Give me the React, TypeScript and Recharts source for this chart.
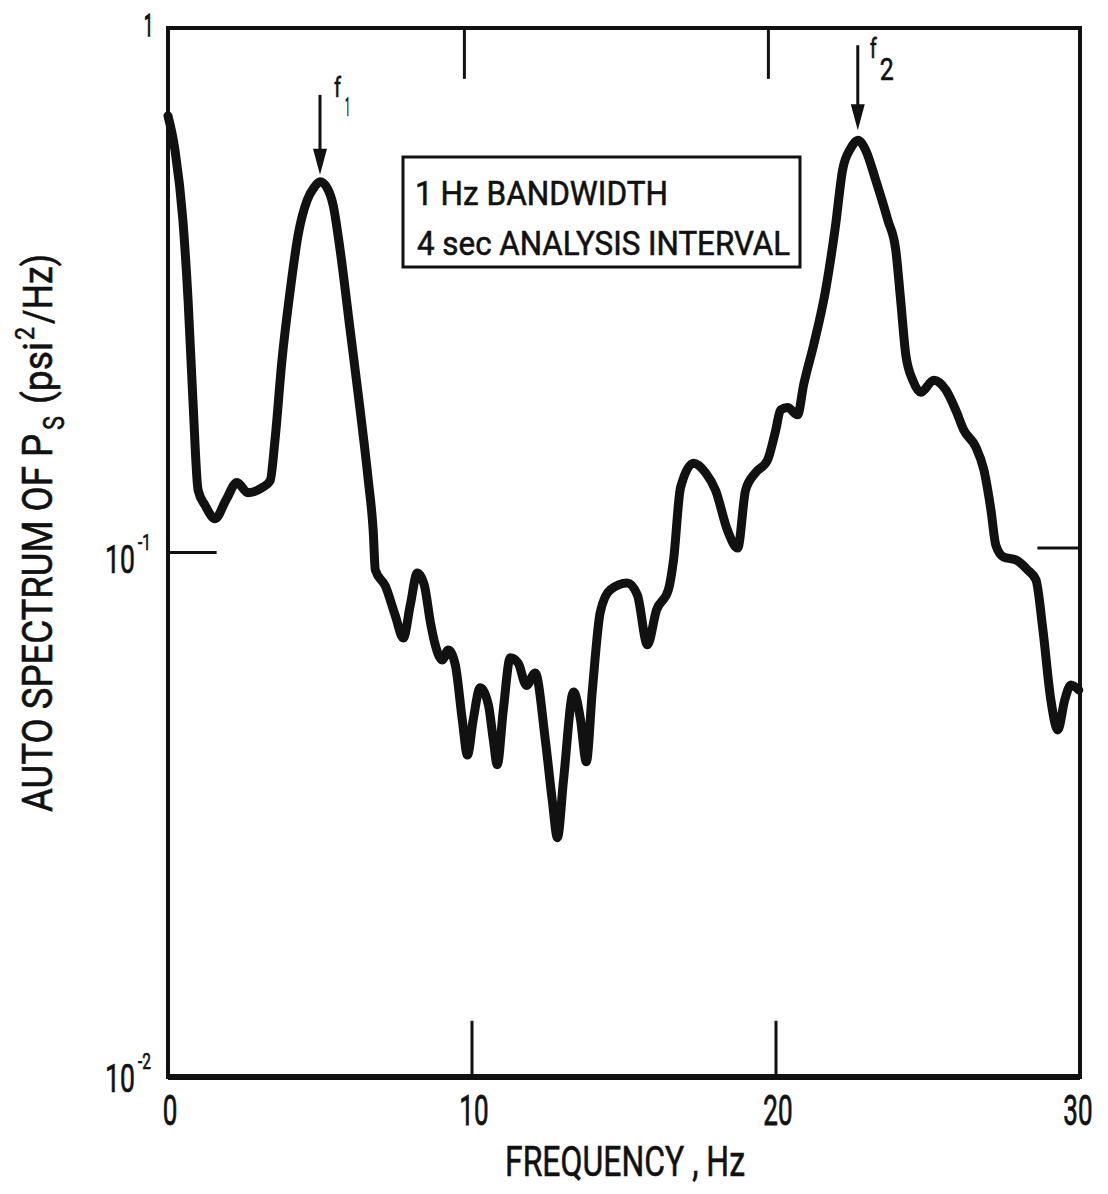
import { LineChart, Line, XAxis, YAxis, ReferenceArea, ReferenceLine, ReferenceDot } from "recharts";

// frequency (Hz) and auto spectrum (psi^2/Hz)
const freq = [
  0, 0.23, 0.49, 0.66, 0.82, 0.99, 1.22, 1.55, 1.91, 2.27, 2.63, 3.1, 3.36, 3.52, 3.75, 4.02, 4.28, 4.58, 4.81, 5.0,
  5.24, 5.43, 5.66, 5.99, 6.32, 6.59, 6.75, 6.82, 7.15, 7.47, 7.74, 7.97, 8.2, 8.43, 8.63, 8.79, 9.02, 9.22, 9.45, 9.68,
  9.85, 10.04, 10.27, 10.54, 10.7, 10.83, 11.03, 11.26, 11.52, 11.79, 12.08, 12.41, 12.64, 12.81, 13.01, 13.34, 13.57, 13.76, 13.96, 14.22,
  14.55, 15.11, 15.44, 15.77, 16.07, 16.46, 16.63, 16.86, 17.29, 17.68, 18.01, 18.41, 18.74, 19.0, 19.33, 19.72, 19.99, 20.15, 20.38, 20.71,
  20.91, 21.24, 21.63, 21.96, 22.19, 22.46, 22.69, 22.95, 23.28, 23.68, 23.94, 24.1, 24.27, 24.5, 24.76, 25.19, 25.59, 25.91, 26.18, 26.57,
  26.84, 27.07, 27.23, 27.49, 27.89, 28.28, 28.55, 28.78, 29.04, 29.27, 29.5, 29.7, 29.96,
];
const psd = [
  0.68, 0.585, 0.43, 0.303, 0.195, 0.1315, 0.123, 0.116, 0.126, 0.136, 0.13, 0.133, 0.137, 0.164, 0.233, 0.316, 0.403, 0.47, 0.497, 0.509,
  0.495, 0.46, 0.378, 0.266, 0.187, 0.137, 0.11, 0.0926, 0.0863, 0.076, 0.0687, 0.0794, 0.0914, 0.0867, 0.0737, 0.0667, 0.0624, 0.0652, 0.0611, 0.048,
  0.0411, 0.048, 0.0552, 0.0512, 0.044, 0.0394, 0.0501, 0.063, 0.0615, 0.0558, 0.0589, 0.044, 0.0337, 0.0286, 0.0368, 0.0542, 0.048, 0.0399, 0.0547, 0.077,
  0.0849, 0.0875, 0.083, 0.0667, 0.0777, 0.0849, 0.0968, 0.133, 0.148, 0.142, 0.1315, 0.11, 0.102, 0.1315, 0.142, 0.15, 0.171, 0.187, 0.189, 0.183,
  0.209, 0.249, 0.316, 0.421, 0.536, 0.59, 0.611, 0.585, 0.513, 0.43, 0.377, 0.303, 0.238, 0.213, 0.202, 0.213, 0.204, 0.187, 0.171, 0.159,
  0.1436, 0.1205, 0.1033, 0.098, 0.0968, 0.0926, 0.0887, 0.0712, 0.0524, 0.0459, 0.0524, 0.0559, 0.0547,
];

const xTicks = [0, 10, 20, 30];
const yTicks = [0.01, 0.1, 1];
const yExponents = [-2, -1, 0];
const innerXTicks = [10, 20];
const innerYTicks = [0.1];

const data = freq.map((f, i) => ({ f, p: psd[i] }));

function peakIn(lo: number, hi: number) {
  let best = data[0];
  let found = false;
  for (const d of data) {
    if (d.f < lo || d.f > hi) continue;
    if (!found || d.p > best.p) {
      best = d;
      found = true;
    }
  }
  return best;
}

const peak1 = peakIn(2, 10);
const peak2 = peakIn(15, 30);

const FONT = "Roboto, 'Liberation Sans', sans-serif";
const INK = "#111";

function XTick(props: any) {
  const { x, y, payload } = props;
  const s = String(payload.value);
  const v = payload.value as number;
  return (
    <g transform={`translate(${x + (v === 30 ? -2 : 2)}, ${y + 48}) scale(0.62, 1)`}>
      <text x={0} y={0} textAnchor="middle" fontFamily={FONT} fontSize={42} fill={INK} stroke={INK} strokeWidth={0.8}>
        {s}
      </text>
    </g>
  );
}

function YTick(props: any) {
  const { x, y, payload } = props;
  const v = payload.value as number;
  const e = yExponents[yTicks.indexOf(v)];
  if (e === 0) {
    return (
      <g transform={`translate(${x - 24}, ${y + 8}) scale(0.5, 1)`}>
        <text x={0} y={0} fontFamily={FONT} fontSize={32} fill={INK} stroke={INK} strokeWidth={1.4}>1</text>
      </g>
    );
  }
  const bx = x - 63;
  return (
    <g fill={INK} fontFamily={FONT} stroke={INK} strokeWidth={0.7}>
      <g transform={`translate(${bx}, ${y + (e === -2 ? 15 : 20)}) scale(0.7, 1)`}>
        <text x={0} y={0} fontSize={38}>10</text>
      </g>
      <g transform={`translate(${bx + 33}, ${y + (e === -2 ? -8 : -3)}) scale(0.7, 1)`}>
        <text x={0} y={0} fontSize={22}>{`-${-e}`}</text>
      </g>
    </g>
  );
}

function Arrow(props: any, label: string, top: number, tip: number, lx: number, ly: number, sx: number, sy: number, subSize: number) {
  const { cx, cy } = props;
  return (
    <g>
      <line x1={cx} y1={cy - top} x2={cx} y2={cy - tip - 22} stroke={INK} strokeWidth={3} />
      <path d={`M${cx - 7},${cy - tip - 26} L${cx + 7},${cy - tip - 26} L${cx},${cy - tip} Z`} fill={INK} />
      <text x={cx + lx} y={cy - ly} fontFamily={FONT} fontSize={28} fill={INK} stroke={INK} strokeWidth={0.6}
        textLength={7} lengthAdjust="spacingAndGlyphs">f</text>
      <text x={cx + sx} y={cy - sy} fontFamily={FONT} fontSize={subSize} fill={INK} stroke={INK} strokeWidth={0.6}
        textLength={label === "2" ? 14 : 5} lengthAdjust="spacingAndGlyphs">{label}</text>
    </g>
  );
}

export default function App() {
  return (
    <div style={{ position: "relative", width: 1100, height: 1184, background: "#fff" }}>
      <LineChart width={1100} height={1184} data={data} margin={{ top: 20, right: 28, bottom: 55, left: 100 }}>
        <XAxis dataKey="f" type="number" domain={[0, 30]} ticks={xTicks} height={60}
          axisLine={{ stroke: INK, strokeWidth: 6 }} tickLine={false} tickSize={0} tickMargin={0} tick={<XTick />} />
        <YAxis type="number" scale="log" domain={[0.01, 1]} ticks={yTicks} width={60} allowDataOverflow
          axisLine={{ stroke: INK, strokeWidth: 4 }} tickLine={false} tickSize={0} tickMargin={0} tick={<YTick />} />
        <ReferenceArea x1={0} x2={30} y1={0.01} y2={1} fill="none" stroke={INK} strokeWidth={4} ifOverflow="visible" />
        {innerXTicks.map((t) => (
          <ReferenceLine key={"b" + t} segment={[{ x: t, y: 0.01 }, { x: t, y: 0.0128 }]} stroke={INK} strokeWidth={3} />
        ))}
        {innerXTicks.map((t) => (
          <ReferenceLine key={"t" + t} segment={[{ x: t - 0.25, y: 1 }, { x: t - 0.25, y: 0.8 }]} stroke={INK} strokeWidth={3} />
        ))}
        {innerYTicks.map((t) => (
          <ReferenceLine key={"l" + t} segment={[{ x: 0, y: t }, { x: 1.6, y: t }]} stroke={INK} strokeWidth={3} />
        ))}
        {innerYTicks.map((t) => (
          <ReferenceLine key={"r" + t} segment={[{ x: 28.6, y: t * 1.02 }, { x: 30, y: t * 1.02 }]} stroke={INK} strokeWidth={3} />
        ))}
        <Line dataKey="p" type="monotone" stroke={INK} strokeWidth={9} dot={false}
          strokeLinejoin="round" strokeLinecap="round" isAnimationActive={false} />
        <ReferenceDot x={peak1.f} y={peak1.p} r={0} ifOverflow="visible"
          shape={(p: any) => Arrow(p, "1", 87, 7, 14, 85, 25, 66, 26)} />
        <ReferenceDot x={peak2.f} y={peak2.p} r={0} ifOverflow="visible"
          shape={(p: any) => Arrow(p, "2", 95, 10, 12, 82, 22, 60, 32)} />
      </LineChart>
      <svg width={1100} height={1184} style={{ position: "absolute", left: 0, top: 0, pointerEvents: "none" }}>
        <g fontFamily={FONT} fill={INK} stroke={INK} strokeWidth={0.6}>
          <rect x={395} y={149} width={397} height={110} fill="none" stroke={INK} strokeWidth={3} />
          <text x={407} y={197} fontSize={34} textLength={253} lengthAdjust="spacingAndGlyphs">1 Hz BANDWIDTH</text>
          <text x={409} y={247} fontSize={34} textLength={373} lengthAdjust="spacingAndGlyphs">4 sec ANALYSIS INTERVAL</text>
          <text x={497} y={1168} fontSize={42} textLength={240} lengthAdjust="spacingAndGlyphs">FREQUENCY , Hz</text>
          <g transform="translate(44, 804) rotate(-90)">
            <text x={0} y={0} fontSize={42} textLength={378} lengthAdjust="spacingAndGlyphs">AUTO SPECTRUM OF P</text>
            <text x={382} y={12} fontSize={30} textLength={14} lengthAdjust="spacingAndGlyphs">S</text>
            <text x={408} y={0} fontSize={40} textLength={62} lengthAdjust="spacingAndGlyphs">(psi</text>
            <text x={472} y={-18} fontSize={26} textLength={13} lengthAdjust="spacingAndGlyphs">2</text>
            <text x={488} y={0} fontSize={40} textLength={70} lengthAdjust="spacingAndGlyphs">/Hz)</text>
          </g>
        </g>
      </svg>
    </div>
  );
}
